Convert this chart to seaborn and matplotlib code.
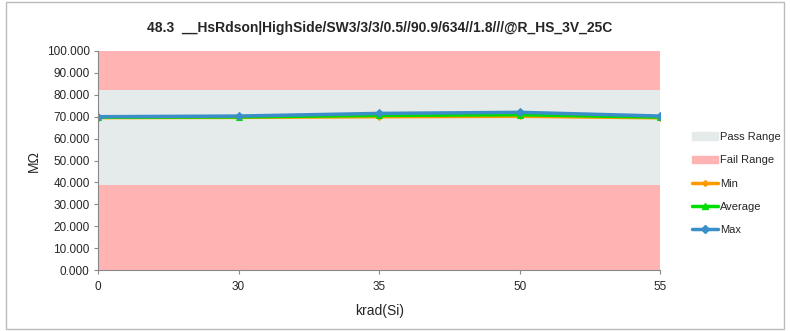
import numpy as np
import pandas as pd
import matplotlib
matplotlib.use("Agg")
import matplotlib.pyplot as plt
from matplotlib.patches import Patch, Rectangle
from matplotlib.lines import Line2D
from matplotlib.ticker import FormatStrFormatter
import seaborn as sns

# data
doses = ["0", "30", "35", "50", "55"]
min_vals = [69.6, 69.7, 70.0, 70.2, 69.5]
avg_vals = [69.8, 69.9, 70.6, 70.9, 69.8]
max_vals = [70.0, 70.3, 71.5, 72.0, 70.3]
fail_low = 38.8
pass_high = 82.0
y_top = 100.0

TITLE = "48.3  __HsRdson|HighSide/SW3/3/3/0.5//90.9/634//1.8///@R_HS_3V_25C"

sns.set_style("white")
plt.rcParams["font.family"] = ["Liberation Sans", "DejaVu Sans"]

fig = plt.figure(figsize=(7.9, 3.31), dpi=100)
ax = fig.add_axes([0.124, 0.184, 0.712, 0.662])

x = np.arange(len(doses))
ax.fill_between(x, 0, fail_low, color="#FFB3B3", lw=0)
ax.fill_between(x, fail_low, pass_high, color="#E5EAEA", lw=0)
ax.fill_between(x, pass_high, y_top, color="#FFB3B3", lw=0)

df = pd.DataFrame({"x": x, "Min": min_vals, "Average": avg_vals, "Max": max_vals})
series = [("Min", "#FF9A00", "D", 3), ("Average", "#00DD00", "^", 4.5), ("Max", "#3A8FC8", "D", 4.5)]
for name, col, mk, ms in series:
    sns.lineplot(data=df, x="x", y=name, ax=ax, color=col, lw=2.5,
                 marker=mk, markersize=ms, markeredgecolor=col, legend=False)

ax.set_xlim(0, len(doses) - 1)
ax.set_ylim(0, y_top)
ax.set_xticks(x)
ax.set_xticklabels(doses)
ax.set_yticks(np.arange(0, 101, 10))
ax.yaxis.set_major_formatter(FormatStrFormatter("%.3f"))
ax.tick_params(axis="both", labelsize=8.5, length=3, color="#888888", direction="out",
               bottom=True, left=True, pad=5)
ax.tick_params(axis="y", pad=3)
for s in ["top", "right"]:
    ax.spines[s].set_visible(False)
for s in ["left", "bottom"]:
    ax.spines[s].set_color("#888888")
ax.set_xlabel("krad(Si)", fontsize=10, labelpad=8)
ax.set_ylabel("MΩ", fontsize=10)
ax.set_title(TITLE, fontsize=10, fontweight="bold", pad=14)

handles = [Patch(color="#E5EAEA", label="Pass Range"),
           Patch(color="#FFB3B3", label="Fail Range")]
for name, col, mk, ms in series:
    handles.append(Line2D([], [], color=col, lw=2.5, marker=mk, markersize=ms, label=name))
fig.legend(handles=handles, loc="center left", bbox_to_anchor=(0.876, 0.445),
           frameon=False, fontsize=8, handlelength=2.3, labelspacing=1.2,
           handletextpad=0.2, borderaxespad=0, borderpad=0)

fig.add_artist(Rectangle((0.007, 0.005), 0.986, 0.99, transform=fig.transFigure,
                         fill=False, edgecolor="#BBBBBB", lw=1))

fig.savefig("out.png", dpi=100)
